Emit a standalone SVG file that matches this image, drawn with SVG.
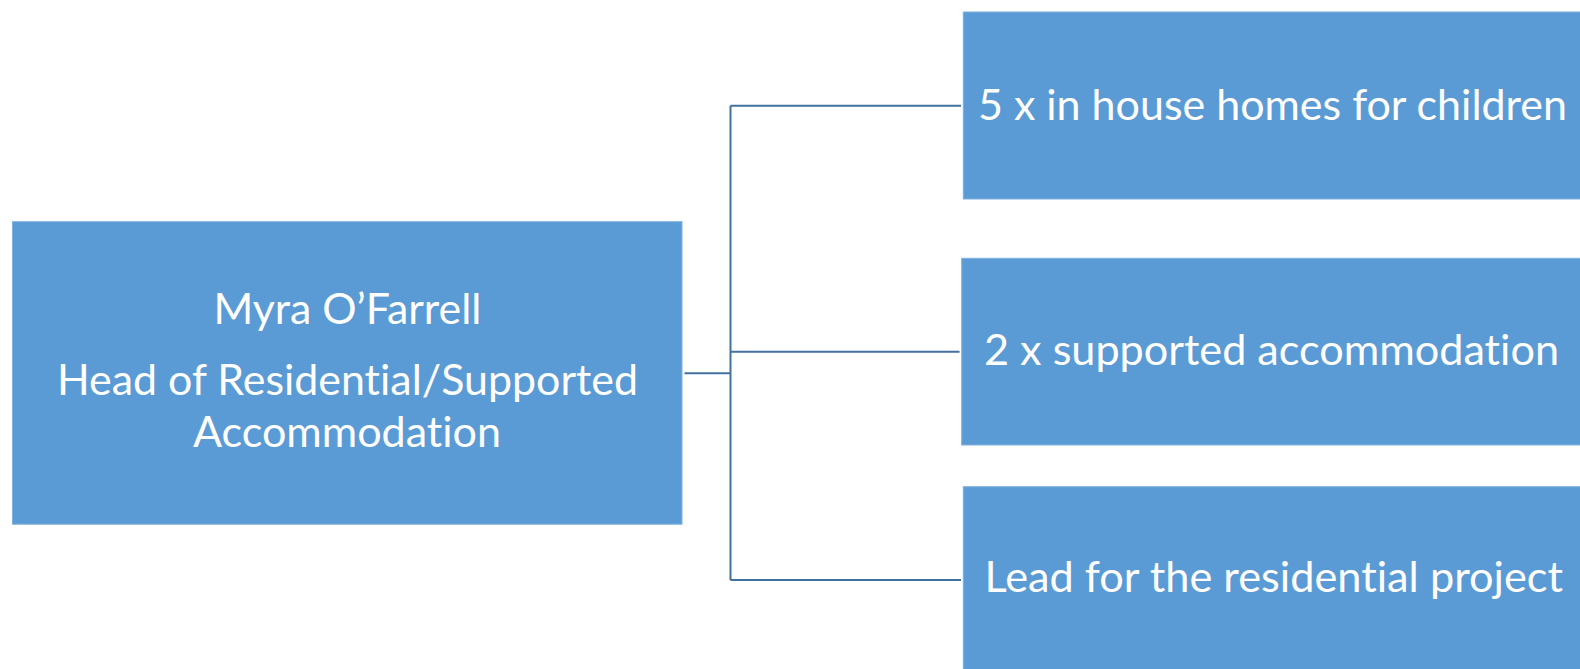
<svg xmlns="http://www.w3.org/2000/svg" width="1580" height="669" viewBox="0 0 1580 669">
  <style>
    .box { fill: #5B9BD5; stroke: #7FB0DF; stroke-width: 1; }
    .lbl { font-family: Lato, "Open Sans", "Liberation Sans", sans-serif; font-size: 42px; fill: #FFFFFF; font-variant-ligatures: none; }
    .conn { fill: none; stroke: #41719C; stroke-width: 2; }
  </style>
  <rect x="0" y="0" width="1580" height="669" fill="#FFFFFF"/>
  <g id="connectors">
    <path class="conn" d="M684.5 373.3 H730.5"/>
    <path class="conn" d="M730.5 105.7 V580"/>
    <path class="conn" d="M730.5 105.7 H961"/>
    <path class="conn" d="M730.5 351.7 H959.5"/>
    <path class="conn" d="M730.5 580 H961"/>
  </g>
  <g id="node-head">
    <rect class="box" x="12.5" y="221.7" width="669.5" height="302.5"/>
    <text class="lbl" x="213.4" y="324" textLength="268" lengthAdjust="spacingAndGlyphs">Myra O’Farrell</text>
    <text class="lbl" x="57" y="395" textLength="581" lengthAdjust="spacingAndGlyphs">Head of Residential/Supported</text>
    <text class="lbl" x="193" y="447" textLength="308" lengthAdjust="spacingAndGlyphs">Accommodation</text>
  </g>
  <g id="node-homes">
    <rect class="box" x="963.3" y="12" width="620" height="187"/>
    <text class="lbl" x="978" y="120" textLength="589" lengthAdjust="spacingAndGlyphs">5 x in house homes for children</text>
  </g>
  <g id="node-supported">
    <rect class="box" x="961.7" y="258.3" width="622" height="186.7"/>
    <text class="lbl" x="984" y="365" textLength="575" lengthAdjust="spacingAndGlyphs">2 x supported accommodation</text>
  </g>
  <g id="node-lead">
    <rect class="box" x="963.3" y="486.7" width="620" height="190"/>
    <text class="lbl" x="984.5" y="592" textLength="578.5" lengthAdjust="spacingAndGlyphs">Lead for the residential project</text>
  </g>
</svg>
